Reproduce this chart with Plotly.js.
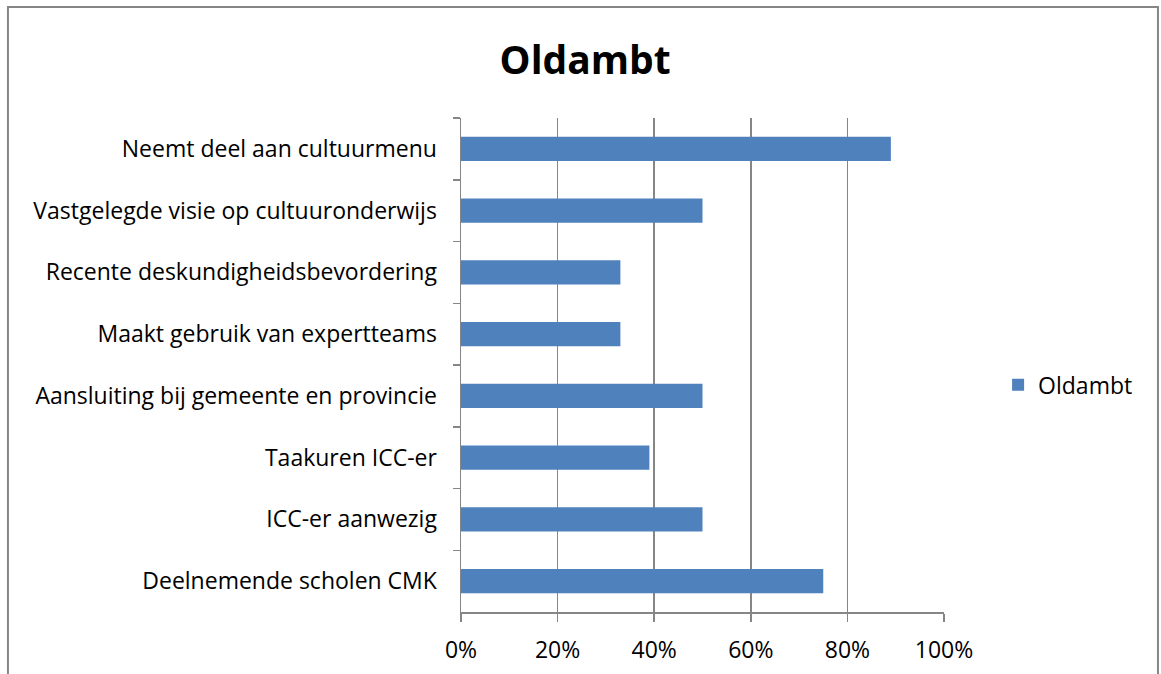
<!DOCTYPE html>
<html>
<head>
<meta charset="utf-8">
<script src="https://cdn.plot.ly/plotly-3.0.1.min.js"></script>
<style>html,body{margin:0;padding:0;background:#fff;}#chart{width:1161px;height:674px;}</style>
</head>
<body>
<div id="chart"></div>
<script>
const categories = [
  "Neemt deel aan cultuurmenu",
  "Vastgelegde visie op cultuuronderwijs",
  "Recente deskundigheidsbevordering",
  "Maakt gebruik van expertteams",
  "Aansluiting bij gemeente en provincie",
  "Taakuren ICC-er",
  "ICC-er aanwezig",
  "Deelnemende scholen CMK"
];
const oldambtValues = [0.89, 0.50, 0.33, 0.33, 0.50, 0.39, 0.50, 0.75];
const xTickValues = [0, 0.2, 0.4, 0.6, 0.8, 1.0];
const xTickLabels = ["0%", "20%", "40%", "60%", "80%", "100%"];
const seriesName = "Oldambt";

const fontFam = "'Open Sans', sans-serif";
const gray = "#868686";

const trace = {
  type: "bar",
  orientation: "h",
  name: seriesName,
  x: oldambtValues,
  y: categories,
  marker: {color: "#4F81BD"},
  showlegend: true,
  hoverinfo: "x+y"
};

const layout = {
  width: 1161,
  height: 674,
  margin: {l: 461, r: 217, t: 118, b: 62},
  paper_bgcolor: "#ffffff",
  plot_bgcolor: "#ffffff",
  font: {family: fontFam, color: "#000000", size: 23},
  title: {
    text: "<b>Oldambt</b>",
    font: {family: fontFam, size: 39, color: "#000"},
    xref: "container", yref: "container",
    x: 0.504, y: 0.911, xanchor: "center", yanchor: "middle"
  },
  bargap: 0.61,
  xaxis: {
    range: [0, 1],
    tickvals: xTickValues,
    ticktext: xTickLabels,
    showgrid: true,
    gridcolor: gray,
    gridwidth: 1.5,
    showline: true,
    linecolor: gray,
    linewidth: 1.5,
    ticks: "outside",
    ticklen: 8,
    tickcolor: gray,
    tickwidth: 1.5,
    zeroline: false,
    tickfont: {family: fontFam, size: 23, color: "#000"},
    ticklabelstandoff: 9,
    fixedrange: true
  },
  yaxis: {
    type: "category",
    autorange: "reversed",
    showgrid: false,
    showline: true,
    linecolor: gray,
    linewidth: 1.5,
    ticks: "outside",
    tickson: "boundaries",
    ticklen: 7,
    tickcolor: gray,
    tickwidth: 1.5,
    zeroline: false,
    tickfont: {family: fontFam, size: 23, color: "#000"},
    ticklabelstandoff: 18,
    fixedrange: true
  },
  legend: {
    x: 1.112, y: 0.46, xanchor: "left", yanchor: "middle",
    font: {family: fontFam, size: 23, color: "#000"},
    bgcolor: "rgba(0,0,0,0)",
    itemwidth: 30
  },
  shapes: [{
    type: "rect", xref: "paper", yref: "paper",
    x0: -0.938, x1: 1.443, y0: -0.2, y1: 1.2247,
    line: {color: gray, width: 2}, fillcolor: "rgba(0,0,0,0)", layer: "below"
  }]
};

Plotly.newPlot("chart", [trace], layout, {displayModeBar: false, staticPlot: true});
</script>
</body>
</html>
